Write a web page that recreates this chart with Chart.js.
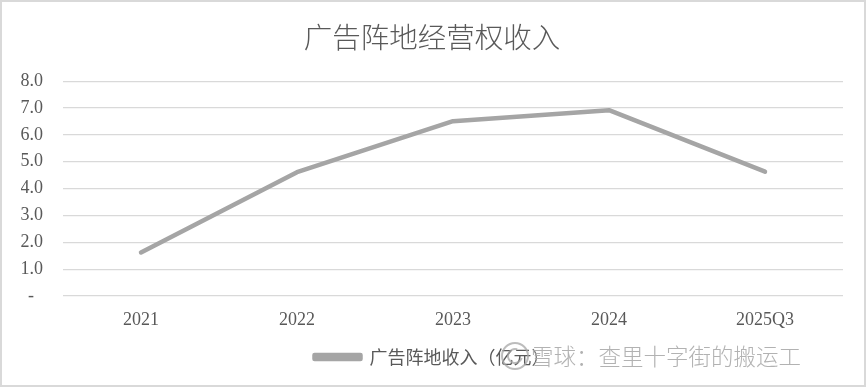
<!DOCTYPE html>
<html>
<head>
<meta charset="utf-8">
<script src="https://cdn.jsdelivr.net/npm/chart.js@4"></script>
<style>
    body { margin: 0; background: #fff; }
    #wrap { width: 866px; height: 387px; }
</style>
</head>
<body>
<div id="wrap"><canvas id="chart" width="866" height="387"></canvas></div>
<script>
const years = ["2021", "2022", "2023", "2024", "2025Q3"];
const income = [1.62, 4.61, 6.51, 6.92, 4.63];
const yTicks = [0, 1, 2, 3, 4, 5, 6, 7, 8];

const chartTitle = "广告阵地经营权收入";
const seriesName = "广告阵地收入（亿元）";
const watermark = "雪球：查里十字街的搬运工";

const grey = "#595959";
const cjk = "'Noto Sans CJK SC', 'Noto Sans', sans-serif";
const serif = "'Liberation Serif', 'DejaVu Serif', serif";

// white background, frame and the watermark on top
const frame = {
    id: "frame",
    beforeDraw(chart) {
        const c = chart.ctx;
        c.save();
        c.fillStyle = "#fff";
        c.fillRect(0, 0, chart.width, chart.height);
        c.restore();
    },
    afterDraw(chart) {
        const c = chart.ctx;
        c.save();
        c.strokeStyle = "#d9d9d9";
        c.lineWidth = 2;
        c.strokeRect(1, 1, chart.width - 2, chart.height - 2);

        // xueqiu logo + text
        c.strokeStyle = "rgba(165,165,165,0.75)";
        c.lineWidth = 2;
        c.beginPath();
        c.arc(515, 356, 13, 0, Math.PI * 2);
        c.stroke();
        c.beginPath();
        c.arc(515, 356, 7, 0.3, Math.PI * 1.6);
        c.stroke();
        c.font = "300 22.5px " + cjk;
        c.textBaseline = "middle";
        c.fillStyle = "rgba(165,165,165,0.85)";
        c.shadowColor = "rgba(255,255,255,0.9)";
        c.shadowBlur = 2;
        c.fillText(watermark, 531, 356);
        c.restore();
    }
};

new Chart(document.getElementById("chart"), {
    type: "line",
    data: {
        labels: years,
        datasets: [{
            label: seriesName,
            data: income,
            borderColor: "#a5a5a5",
            backgroundColor: "#a5a5a5",
            borderWidth: 4.5,
            borderCapStyle: "round",
            borderJoinStyle: "round",
            pointRadius: 0,
            tension: 0
        }]
    },
    options: {
        responsive: false,
        animation: false,
        layout: { padding: { left: 21, right: 23, top: 0, bottom: 11 } },
        plugins: {
            title: {
                display: true,
                text: chartTitle,
                color: grey,
                font: { family: cjk, size: 28.5, weight: 300 },
                padding: { top: 20, bottom: 27 }
            },
            legend: {
                position: "bottom",
                labels: {
                    color: grey,
                    font: { family: cjk, size: 18 },
                    boxWidth: 46,
                    boxHeight: 4,
                    padding: 10
                }
            },
            tooltip: { enabled: false }
        },
        scales: {
            x: {
                offset: true,
                grid: { display: false, drawTicks: false },
                border: { display: false },
                ticks: {
                    color: grey,
                    font: { family: serif, size: 18 },
                    padding: 13,
                    maxRotation: 0
                },
                afterFit(scale) { scale.height = 42; }
            },
            y: {
                min: 0,
                max: 8,
                afterBuildTicks(scale) {
                    scale.ticks = yTicks.map(v => ({ value: v }));
                },
                grid: { color: "#d9d9d9", lineWidth: 1.3, drawTicks: false },
                border: { display: false },
                ticks: {
                    color: grey,
                    font: { family: serif, size: 18 },
                    padding: 20,
                    callback: v => v === 0 ? "-  " : v.toFixed(1)
                },
                afterFit(scale) { scale.width = 42; }
            }
        }
    },
    plugins: [frame]
});
</script>
</body>
</html>
